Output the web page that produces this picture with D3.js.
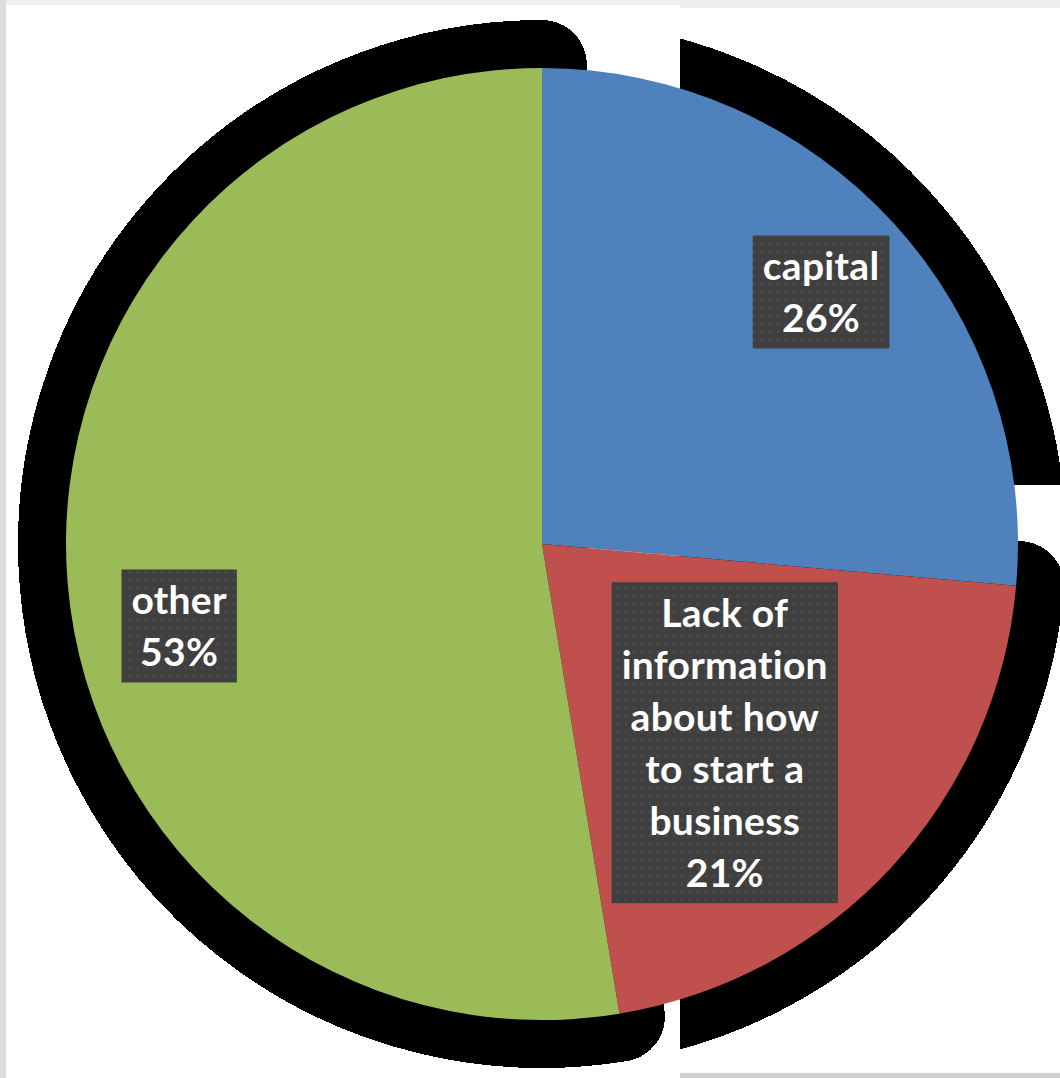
<!DOCTYPE html>
<html><head><meta charset="utf-8">
<script src="https://cdn.jsdelivr.net/npm/d3@7"></script>
<style>html,body{margin:0;padding:0;background:#fff;overflow:hidden}
text{font-variant-ligatures:none;font-feature-settings:"liga" 0,"clig" 0}</style>
</head><body>
<svg id="c" width="1060" height="1078"></svg>
<script>
// ---- data ----
const categories = ["capital", "Lack of information about how to start a business", "other"];
const values = [26.4, 21.0, 52.6];
const labelLines = [["capital"], ["Lack of", "information", "about how", "to start a", "business"], ["other"]];
const colors = ["#4F81BD", "#C0504D", "#9BBB59"];

// ---- layout ----
const W = 1060, H = 1078, cx = 542, cy = 544, R = 476;
const shadowGrow = 45;
const tileX = 680, tileY = 485;
const labelAngleShift = [0.4, 4.55, -8.05];
const labelRadius = [376, 270, 372];
const fontSize = 39, lineH = 52, padX = 10, padY = 4.5;

const svg = d3.select("#c");
svg.append("rect").attr("width", W).attr("height", H).attr("fill", "#fff");

const defs = svg.append("defs");
const pat = defs.append("pattern").attr("id", "dots").attr("width", 8).attr("height", 8).attr("patternUnits", "userSpaceOnUse");
pat.append("rect").attr("width", 8).attr("height", 8).attr("fill", "#3f3f3f");
pat.append("circle").attr("cx", 4).attr("cy", 4).attr("r", 1.3).attr("fill", "#4b4b4b");

// clip tiles: blue -> top-right, red -> bottom-right, green -> left
const clips = [
  {id: "clipTR", x: tileX, y: 0, w: W - tileX, h: tileY},
  {id: "clipBR", x: tileX, y: tileY, w: W - tileX, h: H - tileY},
  {id: "clipL", x: 0, y: 0, w: tileX, h: H}
];
clips.forEach(c => {
  defs.append("clipPath").attr("id", c.id).append("rect")
    .attr("x", c.x).attr("y", c.y).attr("width", c.w).attr("height", c.h);
});

// border strips
svg.append("rect").attr("x", 0).attr("y", 0).attr("width", tileX).attr("height", 5).attr("fill", "#f1f1f1");
svg.append("rect").attr("x", tileX).attr("y", 0).attr("width", W - tileX).attr("height", 8).attr("fill", "#eeeeee");
svg.append("rect").attr("x", 0).attr("y", 0).attr("width", 6).attr("height", H).attr("fill", "#dcdcdc");
svg.append("rect").attr("x", tileX).attr("y", 1073).attr("width", W - tileX).attr("height", 5).attr("fill", "#d0d0d0");

const pie = d3.pie().sort(null).value(d => d);
const arcs = pie(values);

// shadows (dilated slices) drawn first
const shadowArc = d3.arc().innerRadius(0).outerRadius(R + 3);
const sh = svg.append("g");
arcs.forEach((a, i) => {
  sh.append("g").attr("clip-path", `url(#${clips[i].id})`)
    .append("path")
    .attr("transform", `translate(${cx},${cy})`)
    .attr("d", shadowArc(a))
    .attr("fill", "#000").attr("stroke", "#000")
    .attr("stroke-width", shadowGrow * 2)
    .attr("stroke-linejoin", "round")
    .attr("shape-rendering", "crispEdges");
});

const g = svg.append("g").attr("transform", `translate(${cx},${cy})`);

// pie slices
const arc = d3.arc().innerRadius(0).outerRadius(R);
g.selectAll("path.slice").data(arcs).join("path")
  .attr("class", "slice")
  .attr("d", arc)
  .attr("fill", (d, i) => colors[i]);

// labels
const total = d3.sum(values);
const fmt = v => Math.round(v / total * 100) + "%";
arcs.forEach((a, i) => {
  const mid = (a.startAngle + a.endAngle) / 2 + labelAngleShift[i] * Math.PI / 180;
  const [px, py] = d3.pointRadial(mid, labelRadius[i]);
  const lines = labelLines[i].concat([fmt(values[i])]);
  const lg = g.append("g");
  const t = lg.append("text")
    .attr("font-family", "Lato, 'Open Sans', sans-serif")
    .attr("font-weight", 700)
    .attr("font-size", fontSize)
    .attr("letter-spacing", 0.3)
    .attr("fill", "#fff")
    .attr("text-anchor", "middle");
  let maxW = 0;
  lines.forEach(l => {
    const ts = t.append("tspan").text(l);
    maxW = Math.max(maxW, ts.node().getComputedTextLength());
  });
  const bw = maxW + 2 * padX, bh = lines.length * lineH + 2 * padY;
  const top = py - bh / 2;
  t.selectAll("tspan")
    .attr("x", px)
    .attr("y", (d, k) => top + padY + lineH / 2 + k * lineH + fontSize * 0.355);
  lg.insert("rect", "text")
    .attr("x", px - bw / 2).attr("y", top)
    .attr("width", bw).attr("height", bh)
    .attr("fill", "url(#dots)");
});
</script>
</body></html>
